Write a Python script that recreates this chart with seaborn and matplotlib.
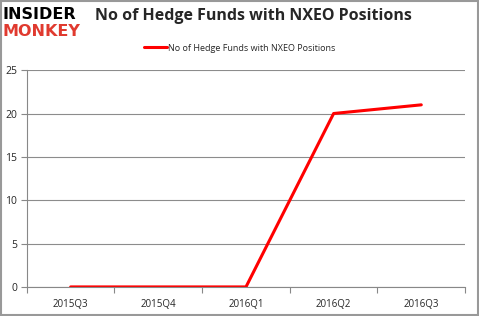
import pandas as pd
import matplotlib.pyplot as plt
import seaborn as sns

quarters = ["2015Q3", "2015Q4", "2016Q1", "2016Q2", "2016Q3"]
funds = [0, 0, 0, 20, 21]
y_ticks = [0, 5, 10, 15, 20, 25]

title = "No of Hedge Funds with NXEO Positions"


def main():
    sns.set_style("white")
    plt.rcParams["font.family"] = ["Open Sans", "DejaVu Sans"]

    df = pd.DataFrame({"quarter": quarters, "funds": funds})
    df["pos"] = range(len(df))

    fig = plt.figure(figsize=(4.79, 3.16), dpi=100)
    ax = fig.add_axes([0.056, 0.092, 0.915, 0.686])

    sns.lineplot(data=df, x="pos", y="funds", color="#ff0000", linewidth=2.2,
                 label=title, ax=ax)

    ax.set_xlim(-0.5, len(quarters) - 0.5)
    ax.set_ylim(0, 25)
    ax.set_yticks(y_ticks)
    ax.set_xticks(range(len(quarters)))
    ax.set_xticklabels(quarters)
    ax.set_xticks([i - 0.5 for i in range(len(quarters) + 1)], minor=True)
    ax.tick_params(axis="x", which="major", length=0, labelsize=7, pad=9)
    ax.tick_params(axis="x", which="minor", length=4, color="#888888", width=0.8)
    ax.tick_params(axis="y", length=4, color="#888888", width=0.8, labelsize=7.5, pad=3)
    ax.xaxis.set_ticks_position("bottom")
    ax.yaxis.set_ticks_position("left")
    ax.set_xlabel("")
    ax.set_ylabel("")
    ax.grid(axis="y", color="#8c8c8c", linewidth=0.8)
    ax.set_axisbelow(True)
    for side in ["top", "right"]:
        ax.spines[side].set_visible(False)
    for side in ["left", "bottom"]:
        ax.spines[side].set_color("#888888")
        ax.spines[side].set_linewidth(0.8)

    ax.legend(loc="center", bbox_to_anchor=(0.5, 0.848), bbox_transform=fig.transFigure,
              frameon=False, fontsize=6.5, handlelength=2.5, handletextpad=0.1, borderpad=0)

    fig.text(0.198, 0.948, title, fontsize=11.5, fontweight="bold", va="center")
    fig.text(0.006, 0.955, "INSIDER", fontsize=11.5, fontweight="bold", color="black",
             va="center", family="DejaVu Sans")
    fig.text(0.006, 0.9, "MONKEY", fontsize=11.5, fontweight="bold", color="#e03a2f",
             va="center", family="DejaVu Sans")

    fig.patches.append(plt.Rectangle((0.002, 0.003), 0.995, 0.994, transform=fig.transFigure,
                                     fill=False, edgecolor="#999999", linewidth=1.5))

    plt.savefig("out.png", dpi=100)


if __name__ == "__main__":
    main()
